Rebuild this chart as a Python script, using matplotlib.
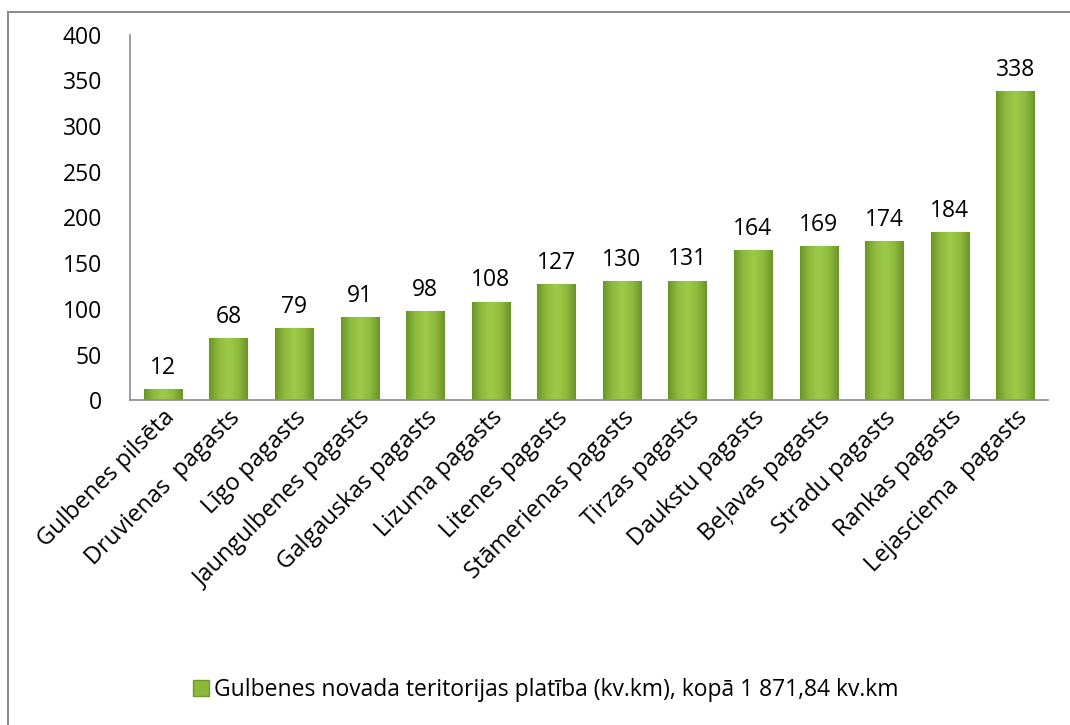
import numpy as np
import matplotlib.pyplot as plt
from matplotlib.lines import Line2D
from matplotlib.patches import Patch
from matplotlib.colors import LinearSegmentedColormap

# dati
pagasti = ['Gulbenes pilsēta', 'Druvienas  pagasts', 'Līgo pagasts', 'Jaungulbenes pagasts',
           'Galgauskas pagasts', 'Lizuma pagasts', 'Litenes pagasts', 'Stāmerienas pagasts',
           'Tirzas pagasts', 'Daukstu pagasts', 'Beļavas pagasts', 'Stradu pagasts',
           'Rankas pagasts', 'Lejasciema  pagasts']
platiba = [12, 68, 79, 91, 98, 108, 127, 130, 131, 164, 169, 174, 184, 338]
legend_label = 'Gulbenes novada teritorijas platība (kv.km), kopā 1 871,84 kv.km'

plt.rcParams['font.family'] = ['Open Sans', 'DejaVu Sans']
fs = 16.5

fig = plt.figure(figsize=(10.7, 7.25), dpi=100)
ax = fig.add_axes([0.1215, 0.448, 0.858, 0.504])

bar_color = '#8cb83a'
x = range(len(pagasti))
bars = ax.bar(x, platiba, width=0.58, color=bar_color, edgecolor='#6f9a28', linewidth=0.8)

# gradients stabiņos
cmap = LinearSegmentedColormap.from_list('g', ['#6b9528', '#8fbb3e', '#9ccb48', '#8fbb3e', '#6b9528'])
grad = np.linspace(0, 1, 64).reshape(1, -1)
for b in bars:
    bx, by = b.get_x(), b.get_y()
    im = ax.imshow(grad, cmap=cmap, aspect='auto', zorder=b.get_zorder() + 0.1,
                   extent=[bx, bx + b.get_width(), by, by + b.get_height()])
    im.set_clip_path(b)

for i, v in enumerate(platiba):
    ax.text(i, v + 10, str(v), ha='center', va='bottom', fontsize=fs)

ax.set_xlim(-0.5, len(pagasti) - 0.5)
ax.set_ylim(0, 400)
ax.set_yticks(range(0, 401, 50))
ax.set_xticks(list(x))
ax.set_xticklabels(pagasti, rotation=45, ha='right', rotation_mode='anchor', fontsize=fs + 0.5)
ax.tick_params(axis='y', length=0, labelsize=fs, pad=20)
ax.tick_params(axis='x', length=0, pad=4)

for s in ['top', 'right']:
    ax.spines[s].set_visible(False)
ax.spines['left'].set_color('#8c8c8c')
ax.spines['bottom'].set_color('#8c8c8c')
ax.spines['left'].set_linewidth(1.2)
ax.spines['bottom'].set_linewidth(1.2)

# leģenda
handle = Patch(facecolor=bar_color, edgecolor='#6f9a28')
fig.legend([handle], [legend_label], loc='center', bbox_to_anchor=(0.51, 0.048),
           frameon=False, fontsize=fs, handlelength=0.7, handleheight=0.7, handletextpad=0.25)

# rāmis
fig.add_artist(Line2D([0.0075, 0.0075], [0, 0.984], color='#8c8c8c', linewidth=1.5))
fig.add_artist(Line2D([0.0075, 1.0], [0.984, 0.984], color='#8c8c8c', linewidth=1.5))

fig.savefig('out.png', dpi=100)
